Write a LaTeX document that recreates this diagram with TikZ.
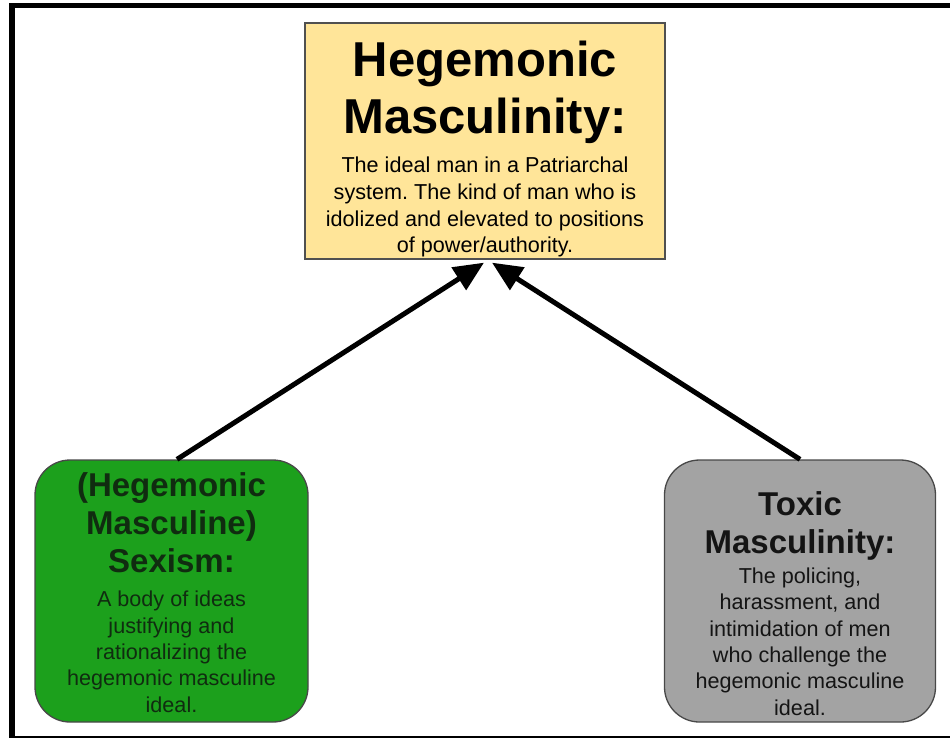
\documentclass[tikz,border=0pt]{standalone}
\usepackage{fontspec}
\setmainfont{Liberation Sans}
\usetikzlibrary{arrows.meta, positioning, calc}
\definecolor{idealfill}{RGB}{255,229,153}
\definecolor{idealline}{RGB}{80,80,80}
\definecolor{sexismfill}{RGB}{28,160,28}
\definecolor{sexismtext}{RGB}{16,44,16}
\definecolor{toxicfill}{RGB}{163,163,163}
\definecolor{toxictext}{RGB}{20,20,20}

\begin{document}
\frenchspacing
\begin{tikzpicture}[x=1pt,y=-1pt,
  bigbox/.style={draw=idealline, line width=1.3pt, inner sep=0pt},
  sidebox/.style={draw=idealline!90!black, line width=1.3pt, inner sep=0pt, rounded corners=35pt,
    minimum width=271pt, minimum height=262pt},
  maintitle/.style={font=\bfseries\fontsize{49}{57}\selectfont, align=center, inner sep=0pt},
  sidetitle/.style={font=\bfseries\fontsize{33}{38}\selectfont, align=center, inner sep=0pt},
  bodytext/.style={font=\frenchspacing\fontsize{21.6}{26.4}\selectfont, align=center, inner sep=0pt}]
  \useasboundingbox (0,0) rectangle (950,740);
  % outer frame (cut off at the right)
  \draw[line width=5pt] (9,5.5) -- (950,5.5);
  \draw[line width=6pt] (12,3) -- (12,738);
  \draw[line width=1.5pt] (9,737) -- (950,737);
  % boxes
  \node[bigbox, fill=idealfill, minimum width=360pt, minimum height=236pt] (hm) at (485,141) {};
  \node[sidebox, fill=sexismfill, minimum width=273pt] (sx) at (171.5,591) {};
  \node[sidebox, fill=toxicfill] (tx) at (800,591) {};
  % texts
  \node[maintitle, below=18pt of hm.north] (hmtitle) {Hegemonic\\Masculinity:};
  \node[bodytext, font=\frenchspacing\fontsize{21.6}{26.9}\selectfont, below=134pt of hm.north] (hmbody) {The ideal man in a Patriarchal\\system. The kind of man who is\\idolized and elevated to positions\\of power/authority.};
  \node[sidetitle, text=sexismtext, below=13pt of sx.north] (sxtitle) {(Hegemonic\\Masculine)\\Sexism:};
  \node[bodytext, text=sexismtext, below=131.5pt of sx.north] (sxbody) {A body of ideas\\justifying and\\rationalizing the\\hegemonic masculine\\ideal.};
  \node[sidetitle, text=toxictext, below=32pt of tx.north] (txtitle) {Toxic\\Masculinity:};
  \node[bodytext, text=toxictext, below=108pt of tx.north] (txbody) {The policing,\\harassment, and\\intimidation of men\\who challenge the\\hegemonic masculine\\ideal.};
  % arrows
  \coordinate (tipL) at ($(hm.south)+(-1,3)$);
  \coordinate (tipR) at ($(hm.south)+(7,3)$);
  \draw[line width=5pt, -{Triangle[length=30pt,width=26pt]}] ($(sx.north)+(5.5,0)$) -- (tipL);
  \draw[line width=5pt, -{Triangle[length=30pt,width=26pt]}] (tx.north) -- (tipR);
\end{tikzpicture}
\end{document}
